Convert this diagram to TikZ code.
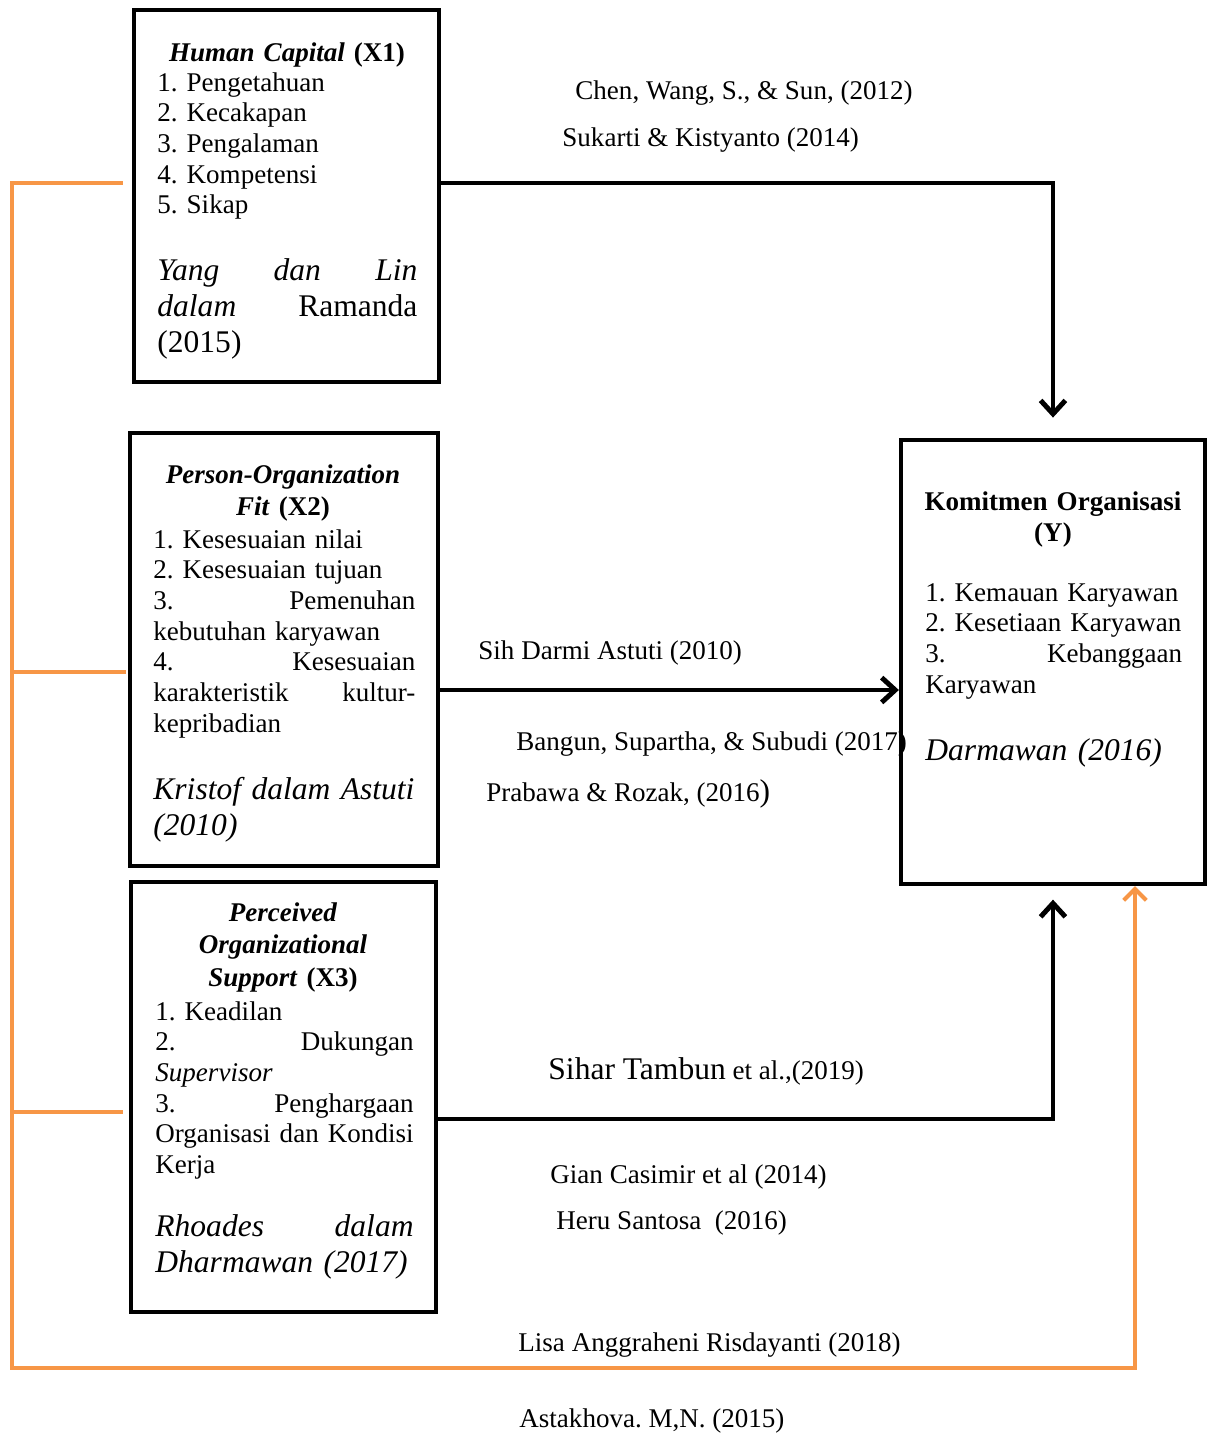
\documentclass[tikz,border=0pt]{standalone}
\usepackage{fontspec}
\setmainfont{Liberation Serif}
\usetikzlibrary{arrows.meta,positioning,calc,fit}
\definecolor{linkorange}{RGB}{247,150,70}
\frenchspacing

\begin{document}
\begin{tikzpicture}[x=0.444pt,y=-0.444pt,
  varbox/.style={draw, line width=1.9pt, inner sep=0pt},
  ttl/.style={anchor=base, text width=125pt, align=center, inner sep=0pt, font=\fontsize{12}{14.6}\selectfont\bfseries},
  lst/.style={anchor=base west, text width=115pt, align=left, inner sep=0pt, font=\fontsize{12}{13.65}\selectfont},
  src/.style={anchor=base west, text width=115pt, align=left, inner sep=0pt, font=\fontsize{14}{16}\selectfont\itshape},
  cite/.style={anchor=base west, inner sep=0pt, font=\fontsize{12}{13.8}\selectfont},
  blk/.style={line width=2.2pt, -{Straight Barb[length=6pt,width=11pt]}},
  org/.style={draw=linkorange, line width=1.8pt}]
  \useasboundingbox (0,0) rectangle (1211,1434);
  % --- variable boxes
  \node[varbox, fit={(134,10) (439,382)}] (x1) {};
  \node[varbox, fit={(130,433) (438,866)}] (x2) {};
  \node[varbox, fit={(131,882) (436,1312)}] (x3) {};
  \node[varbox, fit={(901,440) (1205,884)}] (y) {};
  % --- X1
  \node[ttl] (x1ttl) at (287,61) {\textit{Human Capital} (X1)};
  \node[lst, text width=115.4pt] (x1lst) at (157,91) {1. Pengetahuan\\2. Kecakapan\\3. Pengalaman\\4. Kompetensi\\5. Sikap};
  \node[src, text width=115.4pt] (x1src) at (157,280) {Yang\hfill dan\hfill Lin\\dalam\hfill\textup{Ramanda}\\\textup{(2015)}};
  % --- X2
  \node[ttl] (x2ttl) at (283,483) {\textit{Person-Organization}\\\textit{Fit} (X2)};
  \node[lst, text width=116.3pt] (x2lst) at (153,548) {1. Kesesuaian nilai\\2. Kesesuaian tujuan\\3.\hfill Pemenuhan\\kebutuhan karyawan\\4.\hfill Kesesuaian\\karakteristik\hfill kultur-\\kepribadian};
  \node[src, text width=116.3pt] (x2src) at (153,799) {Kristof dalam Astuti\\(2010)};
  % --- X3
  \node[ttl] (x3ttl) at (283,921) {\textit{Perceived}\\\textit{Organizational}\\\textit{Support} (X3)};
  \node[lst, text width=114.6pt] (x3lst) at (155,1020) {1. Keadilan\\2.\hfill Dukungan\\\textit{Supervisor}\\3.\hfill Penghargaan\\Organisasi\hfill dan\hfill Kondisi\\Kerja};
  \node[src, text width=114.6pt] (x3src) at (155,1236) {Rhoades\hfill dalam\\Dharmawan (2017)};
  % --- Y
  \node[ttl, font=\fontsize{12}{13.8}\selectfont\bfseries] (yttl) at (1053,510) {Komitmen Organisasi\\(Y)};
  \node[lst, text width=114pt] (ylst) at (925,601) {1. Kemauan Karyawan\\2. Kesetiaan Karyawan\\3.\hfill Kebanggaan\\Karyawan};
  \node[src, text width=114pt] (ysrc) at (925,760) {Darmawan (2016)};
  % --- references on the paths
  \node[cite] (l1a) at (575,99) {Chen, Wang, S., \& Sun, (2012)};
  \node[cite] (l1b) at (562,146) {Sukarti \& Kistyanto (2014)};
  \node[cite] (l2a) at (478,659) {Sih Darmi Astuti (2010)};
  \node[cite] (l2b) at (516,750) {Bangun, Supartha, \& Subudi (2017)};
  \node[cite] (l2c) at (486,801) {Prabawa \& Rozak, (2016{\fontsize{14}{16}\selectfont)}};
  \node[cite] (l3a) at (548,1079) {{\fontsize{14}{16}\selectfont Sihar Tambun} et al.,(2019)};
  \node[cite] (l3b) at (550,1183) {Gian Casimir et al (2014)};
  \node[cite] (l3c) at (556,1229) {Heru Santosa\ \ (2016)};
  \node[cite] (l4a) at (518,1351) {Lisa Anggraheni Risdayanti (2018)};
  \node[cite] (l4b) at (519,1427) {Astakhova. M,N. (2015)};
  % --- black paths
  \coordinate (a1) at ($(x1.east)+(0,-13)$);
  \coordinate (a2) at ($(x2.east)+(0,40.5)$);
  \coordinate (a3) at ($(x3.east)+(0,22)$);
  \draw[blk, shorten >=9pt] (a1) -| (y.north);
  \draw[blk] (a2) -- (a2 -| y.west);
  \draw[blk, shorten >=6pt] (a3) -| (y.south);
  % --- orange path
  \coordinate (o1) at ($(x1.west)+(-9,-13)$);
  \coordinate (o2) at ($(x2.west)+(-2,22.5)$);
  \coordinate (o3) at ($(x3.west)+(-6,15)$);
  \coordinate (obend) at (12,1368);
  \draw[org, -{Straight Barb[length=5pt,width=10pt]}] (o1) -| (obend) -| ($(y.south)+(82,0)$);
  \draw[org] (o2) -- (o2 -| obend);
  \draw[org] (o3) -- (o3 -| obend);
\end{tikzpicture}
\end{document}
